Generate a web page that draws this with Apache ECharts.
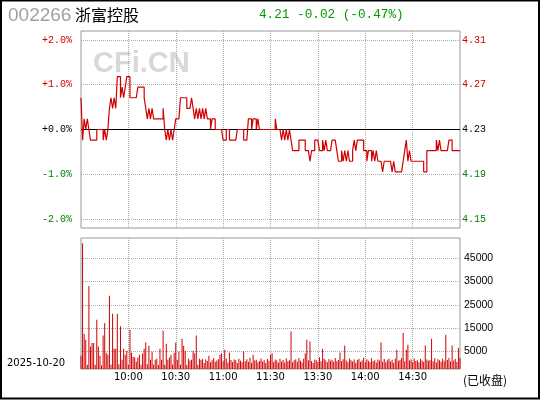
<!DOCTYPE html>
<html><head><meta charset="utf-8">
<script src="https://cdn.jsdelivr.net/npm/echarts@6/dist/echarts.min.js"></script>
<style>html,body{margin:0;padding:0;background:#fff}#c{width:540px;height:400px}</style>
</head><body><div id="c"></div>
<script>
const stockCode = '002266';
const stockName = '浙富控股';
const quoteText = '4.21 -0.02 (-0.47%)';
const tradeDate = '2025-10-20';
const statusText = '(已收盘)';
const watermark = 'CFi.CN';
const prevClose = 4.23;
const pctTicks = [-2, -1, 0, 1, 2];
const pctRange = 2.2;
const volTicks = [5000, 15000, 25000, 35000, 45000];
const timeLabels = ['10:00', '10:30', '11:00', '11:30', '13:30', '14:00', '14:30'];

// minute categories 9:30-11:30, 13:01-15:00
const categories = [];
function pad(n){return (n<10?'0':'')+n;}
for (let m = 9*60+30; m <= 11*60+30; m++) categories.push(Math.floor(m/60)+':'+pad(m%60));
for (let m = 13*60+1; m <= 15*60; m++) categories.push(Math.floor(m/60)+':'+pad(m%60));

const prices = [
4.26,4.22,4.24,4.23,4.24,4.23,4.22,4.22,4.22,4.22,
4.23,4.23,4.23,4.23,4.22,4.23,4.22,4.23,4.25,4.26,
4.25,4.26,4.25,4.28,4.28,4.26,4.27,4.26,4.27,4.28,
4.28,4.26,4.26,4.26,4.26,4.26,4.27,4.27,4.27,4.27,
4.26,4.25,4.24,4.25,4.24,4.25,4.24,4.24,4.24,4.24,
4.24,4.24,4.25,4.23,4.22,4.23,4.22,4.23,4.22,4.23,
4.24,4.24,4.24,4.26,4.26,4.26,4.26,4.25,4.25,4.25,
4.26,4.25,4.24,4.25,4.24,4.25,4.24,4.25,4.24,4.25,
4.24,4.24,4.23,4.24,4.24,4.23,4.23,4.23,4.23,4.23,
4.22,4.22,4.23,4.23,4.22,4.22,4.22,4.22,4.22,4.23,
4.23,4.23,4.23,4.22,4.22,4.22,4.24,4.24,4.23,4.24,
4.24,4.23,4.24,4.23,4.23,4.23,4.23,4.23,4.23,4.23,
4.23,4.23,4.23,4.24,4.23,4.23,4.23,4.22,4.23,4.22,
4.23,4.22,4.23,4.22,4.21,4.21,4.21,4.21,4.22,4.22,
4.22,4.22,4.21,4.21,4.21,4.20,4.21,4.21,4.22,4.22,
4.22,4.21,4.21,4.22,4.21,4.22,4.21,4.21,4.21,4.22,
4.22,4.22,4.21,4.20,4.20,4.21,4.20,4.21,4.20,4.21,
4.20,4.20,4.21,4.22,4.21,4.22,4.22,4.22,4.22,4.21,
4.21,4.20,4.21,4.21,4.20,4.21,4.20,4.21,4.20,4.20,
4.20,4.19,4.20,4.20,4.20,4.20,4.20,4.19,4.20,4.19,
4.19,4.19,4.19,4.19,4.20,4.21,4.22,4.20,4.21,4.20,
4.20,4.20,4.20,4.20,4.20,4.20,4.20,4.19,4.19,4.21,
4.21,4.21,4.21,4.21,4.21,4.22,4.21,4.22,4.21,4.21,
4.21,4.21,4.21,4.22,4.22,4.21,4.21,4.21,4.21,4.21,
4.21
];

const volumes = [
5700,53900,15100,12500,1800,35600,9600,11100,11100,1800,
21100,9600,5700,1600,14300,19700,7000,6100,31400,1900,
23700,8700,8700,23700,2000,18300,4000,8700,6100,7800,
1700,16800,7000,5300,4900,3100,4900,6100,1800,6600,
8700,11300,2000,10000,4000,7400,1900,4000,4400,1700,
8700,4000,16400,1800,10800,4000,4900,6100,1900,7000,
11300,4000,7400,1800,13000,10000,7800,1700,4400,3600,
4000,7800,6600,14300,1800,4400,
3900,4300,2600,4100,3400,5700,2900,3800,4600,3100,
3600,4200,6100,6800,3300,8300,4500,2800,7100,3900,
3000,4100,3700,2600,4400,3500,2900,7600,3300,4200,
3100,4800,2700,6100,3600,4000,2900,3400,4500,3200,
3800,2600,4300,3500,6100,6800,3000,4100,3600,2700,
4400,3200,3900,2800,4600,3300,3700,16100,2900,3800,
4200,3100,4700,3500,2800,4400,6800,12500,3700,11800,
3400,2600,4100,3800,3000,5000,3300,8700,4400,3600,
2900,4300,3500,4000,3100,4700,3300,3900,7100,3400,
4200,10100,3600,2900,4500,3800,3200,4100,2700,3900,
4400,3100,3600,4800,2900,4200,3500,3000,4600,3300,
3800,2800,4100,3600,11400,3100,4300,2900,3700,4500,
3200,4000,2700,4400,8300,3500,3900,4700,15400,3300,
8300,10400,3600,4200,3000,4500,3400,3800,2900,4300,
3600,3100,10100,4100,3500,3900,13000,3300,4600,2800,
4200,3700,3100,4400,3500,14700,3900,4800,3200,10100,
3600,4300,3000,9000,4700
];

const RED = '#cc0000', GREEN = '#008000';
const gridDot = {lineStyle:{color:'#aaa', type:'dotted', width:1}};
const isTimeTick = (i, v) => timeLabels.indexOf(v) >= 0;
const priceTicks = pctTicks.map(p => prevClose * (1 + p / 100));

const chart = echarts.init(document.getElementById('c'), null, {renderer:'canvas'});
chart.setOption({
  animation: false,
  backgroundColor: '#fff',
  grid: [
    {left:81, top:31, width:379, height:197, show:true, borderColor:'#999', borderWidth:1},
    {left:81, top:238, width:379, height:131, show:true, borderColor:'#999', borderWidth:1}
  ],
  xAxis: [
    {type:'category', gridIndex:0, data:categories, boundaryGap:false,
     axisLine:{show:false}, axisTick:{show:false}, axisLabel:{show:false},
     splitLine:Object.assign({show:true, interval:isTimeTick}, gridDot)},
    {type:'category', gridIndex:1, data:categories, boundaryGap:false,
     axisLine:{show:false}, axisTick:{show:false},
     axisLabel:{show:true, interval:isTimeTick, margin:3, fontFamily:'DejaVu Sans', fontSize:10, color:'#000'},
     splitLine:Object.assign({show:true, interval:isTimeTick}, gridDot)}
  ],
  yAxis: [
    {type:'value', gridIndex:0, position:'left', min:-pctRange, max:pctRange,
     axisLine:{show:false}, axisTick:{show:false, customValues:pctTicks},
     axisLabel:{customValues:pctTicks, margin:9, fontFamily:'Liberation Mono', fontSize:10,
       formatter: v => (v >= 0 ? '+' : '') + v.toFixed(1) + '%',
       color: v => v > 0 ? RED : (v < 0 ? GREEN : '#000')},
     splitLine:Object.assign({show:true}, gridDot)},
    {type:'value', gridIndex:0, position:'right',
     min:prevClose*(1-pctRange/100), max:prevClose*(1+pctRange/100),
     axisLine:{show:false}, axisTick:{show:false, customValues:priceTicks},
     axisLabel:{customValues:priceTicks, margin:2, fontFamily:'Liberation Mono', fontSize:10,
       formatter: v => v.toFixed(2),
       color: v => Math.abs(v-prevClose) < 1e-6 ? '#000' : (v > prevClose ? RED : GREEN)},
     splitLine:{show:false}},
    {type:'value', gridIndex:1, min:0, max:56120, show:false, splitLine:{show:false}},
    {type:'value', gridIndex:1, position:'right', min:-2520, max:53600,
     axisLine:{show:false}, axisTick:{show:false, customValues:volTicks},
     axisLabel:{customValues:volTicks, margin:4, fontFamily:'Liberation Sans', fontSize:10.5, color:'#000',
       formatter: v => String(Math.round(v))},
     splitLine:Object.assign({show:true}, gridDot)}
  ],
  series: [
    {type:'line', xAxisIndex:0, yAxisIndex:1, data:prices, step:'end', symbol:'none',
     lineStyle:{color:'#d00000', width:1.2}, z:3,
     markLine:{silent:true, symbol:['none','none'], label:{show:false},
       lineStyle:{color:'#000', width:1, type:'solid'}, data:[{yAxis:prevClose}], z:2}},
    {type:'bar', xAxisIndex:1, yAxisIndex:2, data:volumes, barWidth:1,
     itemStyle:{color:'#d00000'}}
  ],
  graphic: [
    {type:'text', x:93, y:64, z:0, style:{text:watermark, font:'bold 29px "Liberation Sans"', fill:'#d8d8d8', verticalAlign:'middle'}},
    {type:'text', x:8, y:16, style:{text:stockCode, font:'19px "Liberation Sans"', fill:'#a0a0a0', verticalAlign:'middle'}},
    {type:'text', x:75, y:15, style:{text:stockName, font:'16px "Noto Sans CJK SC"', fill:'#000', verticalAlign:'middle'}},
    {type:'text', x:259, y:15, style:{text:quoteText, font:'12.7px "Liberation Mono"', fill:'#009900', verticalAlign:'middle'}},
    {type:'text', x:7, y:363, style:{text:tradeDate, font:'10px "DejaVu Sans"', fill:'#000', verticalAlign:'middle'}},
    {type:'text', x:463, y:380, style:{text:statusText, font:'12px "Noto Sans CJK SC"', fill:'#000', verticalAlign:'middle'}},
    {type:'rect', z:100, shape:{x:1, y:0.5, width:538, height:398}, style:{fill:'none', stroke:'#000', lineWidth:2}}
  ]
});
</script></body></html>
